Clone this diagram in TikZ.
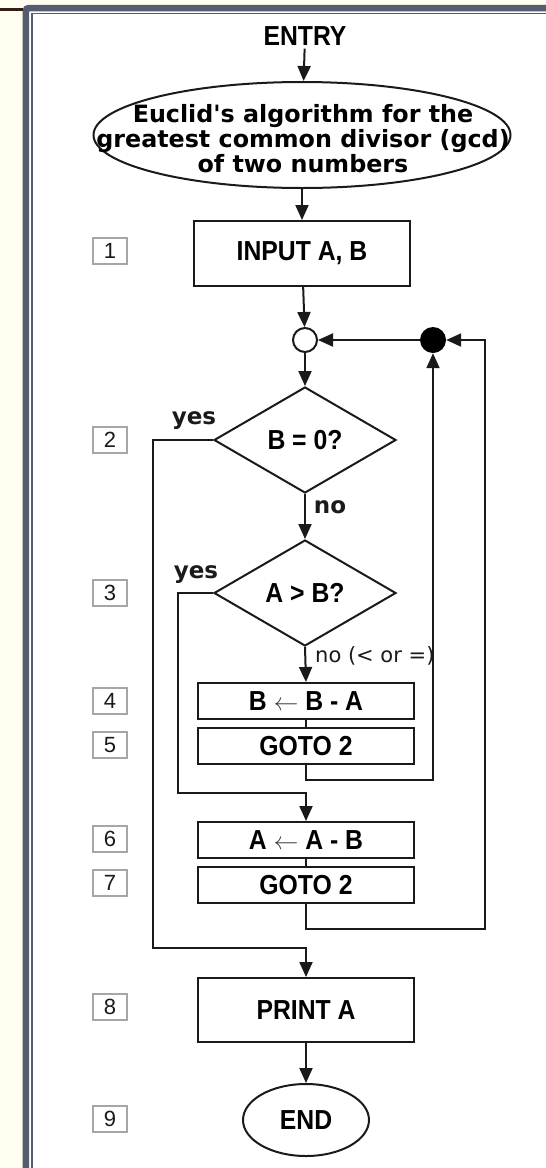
\documentclass[tikz,border=0pt]{standalone}
\usepackage{fontspec}
\setmainfont{Liberation Sans}
\newfontfamily\djv{DejaVu Sans}
\newfontfamily\boxfont[FakeStretch=0.9]{Liberation Sans}
\usetikzlibrary{arrows.meta,shapes.geometric}

\definecolor{cream}{HTML}{FFFEF0}
\definecolor{slate}{HTML}{555C70}
\definecolor{ink}{HTML}{1A1A1A}

\tikzset{
  flow/.style={line width=2pt, draw=ink},
  arr/.style={flow, -{Triangle[length=15pt,width=13pt]}},
  boxtext/.style={font=\boxfont\fontsize{27.5}{32}\selectfont\bfseries},
  procbox/.style={boxtext, draw=ink, line width=2pt, fill=white, minimum width=216pt,
    inner sep=0pt},
  decision/.style={boxtext, diamond, draw=ink, line width=2pt, minimum width=182pt,
    minimum height=106pt, inner sep=0pt},
  numbox/.style={draw=gray!70, line width=1.5pt, minimum width=34pt,
    minimum height=26pt, inner sep=0pt, text=ink, font=\fontsize{22}{24}\selectfont},
  lbl/.style={inner sep=0pt, text=ink, font=\djv\fontsize{23}{26}\selectfont\bfseries},
}

\begin{document}
\begin{tikzpicture}[x=1pt,y=-1pt]
  \useasboundingbox (0,0) rectangle (546,1168);
  \clip (0,0) rectangle (546,1168);
  % window frame
  \fill[cream] (0,0) rectangle (546,1168);
  \fill[white] (29,11) rectangle (560,1180);
  \draw[slate, line width=6.5pt, rounded corners=3pt] (25.75,1180) -- (25.75,8) -- (560,8);
  \draw[slate, line width=1.5pt] (31.8,1180) -- (31.8,13.5) -- (560,13.5);
  \draw[line width=2.2pt, color=black!75!brown] (0,9.5) -- (22.5,9.5);

  \def\cx{305}
  % flowchart nodes
  \node[boxtext, inner sep=3pt] (entry) at (\cx,36) {ENTRY};
  \node[ellipse, draw=ink, line width=2pt, minimum width=417pt, minimum height=106pt] (title) at (302,135) {};
  \node[align=center, inner sep=0pt, font=\djv\fontsize{23.8}{25}\selectfont\bfseries] (titletxt) at (303,139)
    {Euclid's algorithm for the\\greatest common divisor (gcd)\\of two numbers};
  \node[procbox, minimum height=65pt] (input) at (302,253.5) {INPUT A, B};
  \node[circle, draw=ink, line width=2pt, fill=white, minimum size=24pt, inner sep=0pt] (join) at (\cx,340) {};
  \node[circle, fill=black, minimum size=26pt, inner sep=0pt] (dot) at (433,340) {};
  \node[decision] (q1) at (\cx,440) {B = 0?};
  \node[decision] (q2) at (\cx,593) {A > B?};
  \node[procbox, minimum height=36pt] (s4) at (306,701) {B {\color{darkgray}$\leftarrow$} B - A};
  \node[procbox, minimum height=36pt] (s5) at (306,746) {GOTO 2};
  \node[procbox, minimum height=36pt] (s6) at (306,840) {A {\color{darkgray}$\leftarrow$} A - B};
  \node[procbox, minimum height=36pt] (s7) at (306,885) {GOTO 2};
  \node[procbox, minimum height=64pt] (print) at (306,1010) {PRINT A};
  \node[boxtext, ellipse, draw=ink, line width=2pt, minimum width=126pt, minimum height=72pt,
    inner sep=0pt] (stop) at (306,1120) {END};

  % step numbers
  \foreach \n/\y in {1/251,2/440,3/593,4/701,5/745,6/839,7/883,8/1007,9/1119}
    \node[numbox] (num\n) at (110,\y) {\n};

  % branch labels
  \node[lbl, anchor=base] (yes1) at (194,424) {yes};
  \node[lbl, anchor=base] (yes2) at (196,578) {yes};
  \node[lbl, anchor=base] (no1) at (330,513) {no};
  \node[inner sep=0pt, anchor=base west, text=ink, font=\djv\fontsize{21}{24}\selectfont] (no2) at (315,662) {no (< or =)};

  % loop corners
  \coordinate (yesA) at (153,948);
  \coordinate (yesB) at (178,793);
  \coordinate (loopA) at (433,780);
  \coordinate (loopB) at (485,929);

  % connectors
  \draw[arr] (entry) -- (title);
  \draw[arr] (title) -- (input);
  \draw[arr] (input) -- (join);
  \draw[arr] (join) -- (q1);
  \draw[arr] (q1.south) -- (q2.north);
  \draw[arr] (q2.south) -- (s4.north);
  \draw[flow] (s4) -- (s5);
  \draw[flow] (s6) -- (s7);
  \draw[arr] (q1.west) -| (yesA) -| (print.north);
  \draw[arr] (q2.west) -| (yesB) -| (s6.north);
  \draw[arr] (s5.south) |- (loopA) -- (dot.south);
  \draw[arr] (s7.south) |- (loopB) |- (dot.east);
  \draw[arr] (dot) -- (join);
  \draw[arr] (print) -- (stop);
\end{tikzpicture}
\end{document}
